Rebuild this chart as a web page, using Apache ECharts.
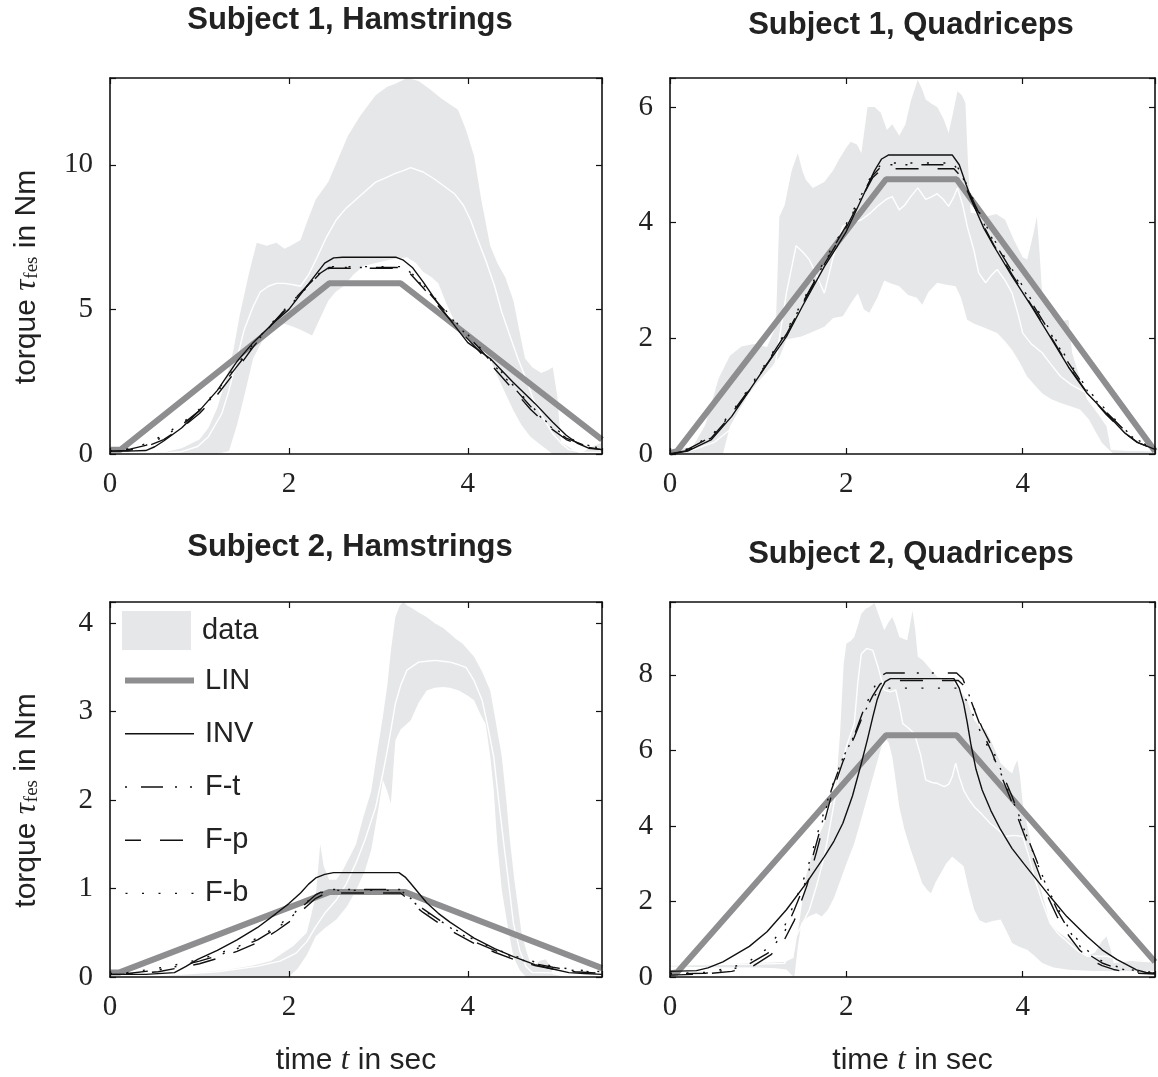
<!DOCTYPE html>
<html><head><meta charset="utf-8">
<script src="https://cdn.jsdelivr.net/npm/echarts@6/dist/echarts.min.js"></script>
<style>html,body{margin:0;padding:0;background:#fff}#c{width:1158px;height:1077px}</style>
</head><body><div id="c"></div>
<script>
// ---------------- DATA (time in s, torque in Nm) ----------------
const panelTitles = ['Subject 1, Hamstrings', 'Subject 1, Quadriceps', 'Subject 2, Hamstrings', 'Subject 2, Quadriceps'];
const legendNames = ['data', 'LIN', 'INV', 'F-t', 'F-p', 'F-b'];
const xTicks = [0, 2, 4];
const yTicksS1H = [0, 5, 10];
const yTicksS1Q = [0, 2, 4, 6];
const yTicksS2H = [0, 1, 2, 3, 4];
const yTicksS2Q = [0, 2, 4, 6, 8];

// Subject 1, Hamstrings
const s1hUpper = [[0,0],[0.3,0],[0.6,0.05],[0.8,0.2],[1.0,0.5],[1.1,0.9],[1.2,1.6],[1.3,2.6],[1.38,3.6],[1.45,4.8],[1.55,6.2],[1.64,7.3],[1.75,7.2],[1.86,7.3],[1.95,7.1],[2.02,7.2],[2.13,7.4],[2.2,8.0],[2.3,8.8],[2.44,9.4],[2.55,10.2],[2.66,11.0],[2.8,11.7],[2.97,12.4],[3.1,12.7],[3.19,12.8],[3.32,13.0],[3.45,12.9],[3.58,12.6],[3.7,12.3],[3.89,11.9],[3.98,11.2],[4.07,10.3],[4.15,8.8],[4.25,7.2],[4.33,6.6],[4.42,6.1],[4.51,5.3],[4.58,4.2],[4.64,3.3],[4.72,3.0],[4.82,2.8],[4.9,2.9],[4.95,3.0],[5.0,2.0],[5.04,0.4],[5.15,0.2],[5.26,0.0],[5.35,0.2],[5.5,0.4]];
const s1hLower = [[0,0],[1.2,0],[1.33,0.1],[1.42,1.0],[1.5,2.0],[1.6,3.3],[1.7,3.9],[1.77,4.1],[1.86,4.4],[1.95,4.5],[2.05,4.4],[2.13,4.3],[2.26,4.1],[2.35,4.7],[2.44,5.3],[2.52,5.6],[2.61,5.8],[2.72,6.2],[2.83,6.5],[2.97,6.6],[3.1,6.7],[3.2,6.75],[3.32,6.8],[3.42,6.6],[3.5,6.3],[3.6,6.1],[3.67,5.9],[3.76,5.2],[3.85,4.6],[3.95,4.3],[4.07,4.0],[4.16,3.7],[4.25,3.3],[4.33,2.7],[4.42,2.1],[4.51,1.5],[4.6,1.0],[4.7,0.6],[4.82,0.3],[4.95,0],[5.5,0]];
const s1hMean = [[0,0.02],[0.6,0.03],[0.8,0.08],[0.98,0.26],[1.1,0.6],[1.25,1.4],[1.33,2.2],[1.42,3.3],[1.5,4.3],[1.6,5.1],[1.68,5.6],[1.77,5.8],[1.86,5.9],[1.95,5.9],[2.05,5.85],[2.13,5.8],[2.22,6.2],[2.3,6.7],[2.42,7.5],[2.53,8.1],[2.64,8.5],[2.75,8.8],[2.86,9.1],[2.97,9.4],[3.08,9.55],[3.19,9.7],[3.28,9.8],[3.36,9.9],[3.5,9.75],[3.63,9.5],[3.74,9.25],[3.85,9.0],[3.95,8.6],[4.03,8.1],[4.1,7.5],[4.2,6.7],[4.3,5.8],[4.38,4.9],[4.47,4.1],[4.56,3.3],[4.65,2.6],[4.73,1.9],[4.85,1.2],[4.95,0.7],[5.05,0.35],[5.13,0.15],[5.3,0.05],[5.5,0.05]];
const s1hLin = [[0,0.15],[0.12,0.15],[2.45,5.9],[3.25,5.9],[5.5,0.5]];
const s1hInv = [[0,0.1],[0.2,0.1],[0.4,0.12],[0.5,0.25],[0.6,0.45],[0.8,0.9],[1.0,1.5],[1.2,2.2],[1.42,3.2],[1.6,3.85],[1.8,4.45],[2.0,5.0],[2.15,5.6],[2.3,6.2],[2.4,6.6],[2.5,6.78],[2.6,6.8],[3.2,6.8],[3.28,6.7],[3.38,6.45],[3.5,5.95],[3.7,5.05],[3.9,4.25],[4.0,3.85],[4.25,3.3],[4.5,2.5],[4.75,1.75],[4.95,1.1],[5.1,0.65],[5.22,0.38],[5.35,0.2],[5.5,0.15]];
const s1hFt = [[0,0.1],[0.2,0.15],[0.4,0.3],[0.6,0.6],[0.8,1.0],[1.0,1.5],[1.2,2.15],[1.4,2.95],[1.6,3.75],[1.8,4.45],[2.0,5.1],[2.2,5.75],[2.35,6.25],[2.45,6.45],[3.25,6.45],[3.35,6.3],[3.5,5.8],[3.7,5.1],[3.9,4.4],[4.1,3.75],[4.3,3.05],[4.5,2.35],[4.7,1.65],[4.9,1.0],[5.1,0.55],[5.3,0.3],[5.5,0.2]];
const s1hFp = [[0,0.1],[0.2,0.12],[0.4,0.25],[0.6,0.5],[0.8,0.9],[1.0,1.4],[1.2,2.05],[1.4,2.85],[1.6,3.7],[1.8,4.45],[2.0,5.15],[2.2,5.8],[2.35,6.25],[2.45,6.42],[3.25,6.42],[3.35,6.25],[3.5,5.75],[3.7,5.0],[3.9,4.3],[4.1,3.65],[4.3,2.95],[4.5,2.25],[4.7,1.55],[4.9,0.95],[5.1,0.5],[5.3,0.25],[5.5,0.15]];
const s1hFb = [[0,0.1],[0.2,0.18],[0.4,0.35],[0.6,0.65],[0.8,1.05],[1.0,1.55],[1.2,2.2],[1.4,3.0],[1.6,3.8],[1.8,4.5],[2.0,5.15],[2.2,5.8],[2.35,6.28],[2.45,6.48],[3.25,6.48],[3.35,6.32],[3.5,5.85],[3.7,5.15],[3.9,4.45],[4.1,3.8],[4.3,3.1],[4.5,2.4],[4.7,1.7],[4.9,1.05],[5.1,0.6],[5.3,0.32],[5.5,0.22]];

// Subject 1, Quadriceps
const s1qUpper = [[0,0],[0.15,0.1],[0.26,0.13],[0.4,0.5],[0.55,1.3],[0.68,1.7],[0.81,1.86],[0.95,1.9],[1.1,1.85],[1.2,2.2],[1.24,4.1],[1.3,4.3],[1.38,4.9],[1.45,5.2],[1.5,4.9],[1.54,4.74],[1.62,4.6],[1.75,4.7],[1.85,4.9],[1.92,5.1],[2.0,5.3],[2.05,5.4],[2.12,5.35],[2.17,5.2],[2.24,6.0],[2.32,6.0],[2.39,5.9],[2.46,5.6],[2.52,5.7],[2.6,5.5],[2.67,5.7],[2.73,6.1],[2.81,6.47],[2.86,6.3],[2.9,6.13],[2.97,6.05],[3.03,6.0],[3.1,5.8],[3.16,5.55],[3.21,5.9],[3.26,6.27],[3.31,6.2],[3.35,6.07],[3.38,5.0],[3.41,4.17],[3.5,4.15],[3.58,4.1],[3.7,4.15],[3.8,4.05],[3.9,3.7],[4.0,3.4],[4.05,3.36],[4.12,3.8],[4.16,4.1],[4.19,3.5],[4.22,2.78],[4.3,2.45],[4.35,2.38],[4.45,2.3],[4.52,2.32],[4.56,1.75],[4.65,1.3],[4.73,0.94],[4.85,0.7],[4.95,0.48],[5.0,0.07],[5.2,0.05],[5.5,0.05]];
const s1qLower = [[0,0],[0.6,0],[0.68,0.48],[0.8,0.8],[0.9,1.05],[1.0,1.25],[1.15,1.5],[1.25,1.7],[1.32,1.98],[1.49,2.03],[1.6,2.1],[1.75,2.2],[1.85,2.35],[1.96,2.38],[2.05,2.6],[2.13,2.78],[2.2,2.5],[2.26,2.44],[2.35,2.7],[2.43,3.0],[2.5,2.95],[2.6,2.9],[2.7,2.75],[2.8,2.7],[2.86,2.58],[2.93,2.8],[3.03,2.96],[3.12,2.93],[3.24,2.9],[3.3,2.7],[3.37,2.32],[3.45,2.25],[3.54,2.2],[3.62,2.15],[3.71,2.09],[3.8,1.95],[3.88,1.8],[3.96,1.6],[4.05,1.34],[4.13,1.2],[4.22,1.05],[4.32,0.95],[4.43,0.88],[4.55,0.82],[4.65,0.77],[4.75,0.6],[4.82,0.4],[4.9,0.19],[5.03,0],[5.5,0]];
const s1qMean = [[0,0],[0.26,0.07],[0.5,0.2],[0.68,0.42],[0.9,0.75],[1.11,1.05],[1.2,1.6],[1.32,2.78],[1.43,3.6],[1.5,3.5],[1.58,3.36],[1.66,3.1],[1.75,2.78],[1.85,3.4],[1.96,3.94],[2.08,4.0],[2.17,4.05],[2.26,4.15],[2.35,4.28],[2.45,4.4],[2.52,4.45],[2.6,4.22],[2.66,4.3],[2.73,4.45],[2.81,4.6],[2.9,4.4],[2.97,4.45],[3.03,4.5],[3.1,4.4],[3.16,4.28],[3.22,4.45],[3.26,4.6],[3.32,4.3],[3.37,3.94],[3.45,3.5],[3.5,3.13],[3.58,2.96],[3.65,3.1],[3.71,3.19],[3.8,3.0],[3.88,2.78],[3.95,2.4],[4.0,2.09],[4.1,1.9],[4.22,1.75],[4.32,1.55],[4.43,1.34],[4.55,1.2],[4.73,1.05],[4.9,1.05],[5.0,0.6],[5.07,0.19],[5.29,0.07],[5.5,0.05]];
const s1qLin = [[0,0.02],[0.08,0.05],[2.45,4.75],[3.25,4.75],[5.5,0.05]];
const s1qInv = [[0,0],[0.2,0.05],[0.47,0.25],[0.7,0.65],[0.9,1.1],[1.1,1.55],[1.32,2.03],[1.5,2.55],[1.75,3.24],[1.9,3.6],[2.0,3.85],[2.17,4.4],[2.32,4.9],[2.4,5.1],[2.48,5.17],[3.2,5.17],[3.28,5.0],[3.36,4.65],[3.45,4.28],[3.56,3.9],[3.67,3.6],[3.88,3.07],[4.1,2.55],[4.31,2.03],[4.52,1.5],[4.73,1.05],[4.95,0.7],[5.16,0.36],[5.3,0.2],[5.5,0.08]];
const s1qFt = [[0,0],[0.2,0.08],[0.47,0.3],[0.7,0.7],[0.9,1.12],[1.1,1.58],[1.32,2.1],[1.5,2.6],[1.75,3.3],[2.0,3.95],[2.17,4.45],[2.3,4.82],[2.4,4.98],[2.45,5.0],[3.22,5.0],[3.3,4.85],[3.4,4.5],[3.56,3.98],[3.67,3.68],[3.88,3.15],[4.1,2.62],[4.31,2.1],[4.52,1.57],[4.73,1.1],[4.95,0.72],[5.16,0.4],[5.3,0.22],[5.5,0.1]];
const s1qFp = [[0,0],[0.2,0.06],[0.47,0.28],[0.7,0.68],[0.9,1.1],[1.1,1.56],[1.32,2.07],[1.5,2.58],[1.75,3.28],[2.0,3.92],[2.17,4.42],[2.3,4.78],[2.4,4.92],[2.45,4.93],[3.22,4.93],[3.3,4.8],[3.4,4.45],[3.56,3.93],[3.67,3.62],[3.88,3.1],[4.1,2.57],[4.31,2.05],[4.52,1.52],[4.73,1.06],[4.95,0.68],[5.16,0.36],[5.3,0.2],[5.5,0.08]];
const s1qFb = [[0,0],[0.2,0.09],[0.47,0.32],[0.7,0.72],[0.9,1.15],[1.1,1.6],[1.32,2.13],[1.5,2.63],[1.75,3.34],[2.0,3.98],[2.17,4.48],[2.3,4.86],[2.4,5.01],[2.45,5.03],[3.22,5.03],[3.3,4.88],[3.4,4.53],[3.56,4.01],[3.67,3.72],[3.88,3.19],[4.1,2.66],[4.31,2.14],[4.52,1.6],[4.73,1.13],[4.95,0.75],[5.16,0.42],[5.3,0.24],[5.5,0.12]];

// Subject 2, Hamstrings
const s2hUpper = [[0,0],[0.4,0],[0.7,0.02],[1.0,0.05],[1.3,0.08],[1.6,0.13],[1.8,0.18],[1.9,0.25],[2.05,0.35],[2.2,0.5],[2.3,0.91],[2.35,1.5],[2.39,1.25],[2.45,1.1],[2.53,1.1],[2.6,1.2],[2.7,1.4],[2.75,1.5],[2.83,1.8],[2.92,2.1],[2.98,2.5],[3.05,2.94],[3.1,3.3],[3.14,3.69],[3.19,4.07],[3.24,4.2],[3.28,4.24],[3.32,4.2],[3.36,4.18],[3.45,4.12],[3.54,4.07],[3.63,4.0],[3.72,3.95],[3.8,3.88],[3.87,3.82],[3.94,3.77],[4.0,3.7],[4.07,3.62],[4.16,3.45],[4.25,3.24],[4.31,2.9],[4.38,2.49],[4.43,2.0],[4.47,1.55],[4.52,1.1],[4.56,0.8],[4.6,0.5],[4.65,0.31],[4.7,0.15],[4.74,0.12],[4.8,0.18],[4.87,0.2],[4.92,0.12],[4.95,0.03],[5.1,0],[5.5,0]];
const s2hLower = [[0,0],[2.0,0],[2.1,0.1],[2.2,0.25],[2.3,0.46],[2.4,0.55],[2.53,0.65],[2.65,0.8],[2.75,0.98],[2.85,1.2],[2.92,1.44],[3.0,1.9],[3.05,2.23],[3.1,2.1],[3.14,1.96],[3.19,2.68],[3.25,2.8],[3.36,2.9],[3.45,3.1],[3.54,3.24],[3.63,3.27],[3.72,3.28],[3.8,3.27],[3.9,3.24],[4.0,3.18],[4.07,3.13],[4.15,2.95],[4.2,2.86],[4.25,2.5],[4.29,2.11],[4.33,1.5],[4.38,0.98],[4.45,0.55],[4.51,0.23],[4.58,0.08],[4.65,0],[5.5,0]];
const s2hMean = [[0,0],[0.76,0.03],[1.2,0.06],[1.64,0.12],[1.9,0.18],[2.08,0.27],[2.2,0.4],[2.3,0.57],[2.4,0.72],[2.53,0.87],[2.64,1.05],[2.75,1.29],[2.85,1.55],[2.97,1.92],[3.05,2.3],[3.1,2.56],[3.15,2.85],[3.19,3.09],[3.25,3.3],[3.32,3.47],[3.45,3.56],[3.54,3.57],[3.63,3.58],[3.72,3.57],[3.8,3.56],[3.9,3.53],[3.98,3.5],[4.07,3.35],[4.16,3.13],[4.22,2.85],[4.29,2.49],[4.35,1.95],[4.42,1.36],[4.47,0.95],[4.51,0.61],[4.58,0.3],[4.65,0.12],[4.72,0.05],[4.85,0.05],[5.5,0.02]];
const s2hLin = [[0,0.05],[0.1,0.05],[2.45,0.96],[3.3,0.96],[5.5,0.1]];
const s2hInv = [[0,0.03],[0.4,0.03],[0.72,0.05],[0.85,0.12],[0.98,0.2],[1.2,0.3],[1.42,0.42],[1.65,0.56],[1.86,0.72],[2.0,0.83],[2.13,0.95],[2.22,1.05],[2.3,1.12],[2.4,1.16],[2.5,1.18],[3.23,1.18],[3.3,1.13],[3.36,1.06],[3.45,0.95],[3.54,0.84],[3.67,0.72],[3.8,0.62],[3.95,0.52],[4.07,0.44],[4.3,0.32],[4.51,0.23],[4.75,0.14],[4.95,0.09],[5.13,0.05],[5.3,0.04],[5.5,0.03]];
const s2hFt = [[0,0.03],[0.2,0.04],[0.54,0.08],[0.8,0.13],[1.0,0.18],[1.2,0.24],[1.42,0.32],[1.65,0.42],[1.86,0.55],[2.0,0.65],[2.1,0.75],[2.2,0.84],[2.3,0.93],[2.4,0.98],[2.45,0.99],[3.25,0.99],[3.32,0.93],[3.4,0.85],[3.5,0.77],[3.63,0.68],[3.8,0.56],[4.07,0.4],[4.3,0.3],[4.51,0.22],[4.75,0.15],[4.95,0.11],[5.2,0.07],[5.5,0.05]];
const s2hFp = [[0,0.03],[0.2,0.03],[0.54,0.06],[0.8,0.11],[1.0,0.15],[1.2,0.21],[1.42,0.29],[1.65,0.39],[1.86,0.52],[2.0,0.62],[2.1,0.71],[2.2,0.8],[2.3,0.89],[2.4,0.94],[2.45,0.95],[3.25,0.95],[3.32,0.89],[3.4,0.81],[3.5,0.73],[3.63,0.64],[3.8,0.53],[4.07,0.38],[4.3,0.28],[4.51,0.2],[4.75,0.13],[4.95,0.09],[5.2,0.06],[5.5,0.04]];
const s2hFb = [[0,0.04],[0.2,0.05],[0.54,0.1],[0.8,0.15],[1.0,0.2],[1.2,0.26],[1.42,0.34],[1.65,0.44],[1.86,0.57],[2.0,0.67],[2.1,0.76],[2.2,0.85],[2.3,0.92],[2.4,0.97],[2.45,0.98],[3.25,0.98],[3.32,0.92],[3.4,0.84],[3.5,0.76],[3.63,0.67],[3.8,0.57],[4.07,0.42],[4.3,0.32],[4.51,0.24],[4.75,0.17],[4.95,0.12],[5.2,0.08],[5.5,0.06]];

// Subject 2, Quadriceps
const s2qUpper = [[0,0.3],[0.5,0.33],[1.0,0.37],[1.3,0.4],[1.4,0.5],[1.47,1.5],[1.54,2.66],[1.62,3.3],[1.68,3.7],[1.75,4.07],[1.82,4.5],[1.88,4.95],[1.93,6.5],[1.97,8.3],[2.0,8.83],[2.05,8.9],[2.09,9.0],[2.13,9.3],[2.17,9.62],[2.22,9.75],[2.26,9.8],[2.32,9.9],[2.38,9.5],[2.43,9.18],[2.48,9.4],[2.52,9.53],[2.56,9.3],[2.6,9.0],[2.65,8.95],[2.69,8.92],[2.72,9.3],[2.75,9.7],[2.78,9.2],[2.81,8.48],[2.86,8.4],[2.9,8.3],[2.97,8.1],[3.03,7.95],[3.1,7.9],[3.2,7.86],[3.28,7.6],[3.37,7.33],[3.45,6.8],[3.52,6.6],[3.58,6.54],[3.65,6.2],[3.75,5.66],[3.82,5.5],[3.88,5.39],[3.91,5.6],[3.94,5.74],[3.97,5.3],[4.0,4.6],[4.07,3.8],[4.14,3.01],[4.22,2.2],[4.31,1.43],[4.4,1.2],[4.52,0.99],[4.62,0.8],[4.73,0.55],[4.82,0.65],[4.9,0.95],[4.95,1.07],[5.0,0.7],[5.03,0.37],[5.15,0.4],[5.29,0.46],[5.4,0.42],[5.5,0.4]];
const s2qLower = [[0,0.28],[0.5,0.26],[1.0,0.25],[1.2,0.23],[1.32,0.2],[1.38,0.05],[1.41,0],[1.45,0.8],[1.49,1.43],[1.57,1.6],[1.66,1.69],[1.72,1.6],[1.79,1.78],[1.86,2.1],[1.92,2.48],[2.0,3.0],[2.09,3.54],[2.17,4.2],[2.26,4.95],[2.35,5.7],[2.43,6.36],[2.48,6.2],[2.52,5.83],[2.56,5.2],[2.6,4.51],[2.66,3.9],[2.73,3.37],[2.8,2.9],[2.86,2.48],[2.92,2.3],[2.96,2.22],[3.01,2.5],[3.07,2.75],[3.13,3.0],[3.2,3.19],[3.27,3.05],[3.33,2.93],[3.38,2.4],[3.45,1.78],[3.51,1.5],[3.58,1.43],[3.66,1.48],[3.75,1.52],[3.82,1.2],[3.88,0.9],[3.96,0.8],[4.05,0.72],[4.14,0.55],[4.22,0.37],[4.35,0.25],[4.52,0.19],[4.8,0.16],[5.5,0.15]];
const s2qMean = [[0,0.33],[0.5,0.33],[1.0,0.34],[1.3,0.36],[1.41,0.99],[1.5,1.4],[1.58,1.78],[1.66,2.4],[1.75,3.19],[1.83,4.2],[1.92,5.39],[2.0,6.1],[2.09,6.71],[2.13,7.8],[2.17,8.56],[2.23,8.7],[2.3,8.65],[2.36,8.2],[2.43,7.6],[2.5,7.55],[2.56,7.6],[2.6,7.2],[2.64,6.71],[2.7,6.6],[2.77,6.45],[2.84,5.9],[2.9,5.22],[2.97,5.15],[3.03,5.13],[3.11,5.04],[3.16,5.1],[3.2,5.3],[3.24,5.66],[3.28,5.3],[3.33,4.95],[3.39,4.7],[3.45,4.51],[3.54,4.3],[3.63,4.07],[3.72,3.9],[3.8,3.72],[3.9,3.75],[4.0,3.72],[4.07,3.2],[4.14,2.57],[4.22,2.0],[4.31,1.43],[4.4,1.15],[4.52,0.9],[4.62,0.7],[4.73,0.55],[4.85,0.55],[4.95,0.55],[5.05,0.5],[5.16,0.46],[5.3,0.43],[5.42,0.41],[5.5,0.4]];
const s2qLin = [[0,0.1],[0.08,0.12],[2.45,6.4],[3.25,6.4],[5.5,0.4]];
const s2qInv = [[0,0.15],[0.3,0.17],[0.43,0.24],[0.6,0.4],[0.9,0.81],[1.1,1.2],[1.32,1.78],[1.55,2.5],[1.75,3.19],[1.86,3.6],[1.96,4.07],[2.07,4.8],[2.17,5.66],[2.24,6.3],[2.3,6.89],[2.35,7.35],[2.39,7.6],[2.44,7.82],[2.5,7.9],[3.22,7.9],[3.28,7.65],[3.33,7.24],[3.37,6.75],[3.41,6.19],[3.47,5.5],[3.54,4.95],[3.64,4.4],[3.75,3.9],[3.88,3.4],[4.01,3.01],[4.15,2.6],[4.31,2.13],[4.5,1.6],[4.73,1.07],[4.9,0.72],[5.07,0.46],[5.2,0.3],[5.29,0.19],[5.4,0.12],[5.5,0.1]];
const s2qFt = [[0,0.08],[0.4,0.1],[0.7,0.2],[0.9,0.35],[1.11,0.63],[1.3,1.2],[1.41,1.78],[1.55,2.6],[1.66,3.54],[1.75,4.3],[1.83,4.95],[1.96,5.8],[2.09,6.4],[2.2,7.1],[2.3,7.6],[2.38,7.95],[2.45,8.05],[3.25,8.05],[3.32,7.9],[3.37,7.6],[3.45,7.1],[3.54,6.6],[3.63,6.19],[3.75,5.5],[3.88,4.78],[4.0,4.0],[4.14,3.19],[4.27,2.4],[4.39,1.78],[4.52,1.25],[4.65,0.81],[4.78,0.55],[4.9,0.37],[5.03,0.26],[5.16,0.19],[5.3,0.14],[5.5,0.1]];
const s2qFp = [[0,0.05],[0.4,0.08],[0.7,0.15],[0.95,0.3],[1.15,0.6],[1.3,1.0],[1.41,1.5],[1.55,2.4],[1.66,3.3],[1.75,4.1],[1.83,4.8],[1.96,5.7],[2.09,6.35],[2.2,7.0],[2.3,7.45],[2.38,7.75],[2.45,7.85],[3.27,7.85],[3.34,7.7],[3.4,7.4],[3.48,6.9],[3.56,6.4],[3.65,5.95],[3.77,5.25],[3.9,4.5],[4.02,3.75],[4.15,2.95],[4.27,2.2],[4.39,1.6],[4.52,1.1],[4.65,0.7],[4.78,0.45],[4.9,0.3],[5.03,0.2],[5.16,0.14],[5.3,0.1],[5.5,0.08]];
const s2qFb = [[0,0.1],[0.4,0.12],[0.7,0.25],[0.9,0.42],[1.1,0.75],[1.3,1.35],[1.41,1.95],[1.55,2.8],[1.66,3.7],[1.75,4.4],[1.83,5.0],[1.96,5.8],[2.09,6.4],[2.2,7.0],[2.3,7.4],[2.38,7.6],[2.45,7.65],[3.25,7.65],[3.32,7.5],[3.4,7.15],[3.48,6.7],[3.56,6.3],[3.65,5.9],[3.77,5.3],[3.9,4.6],[4.02,3.9],[4.15,3.1],[4.27,2.4],[4.39,1.85],[4.52,1.3],[4.65,0.9],[4.78,0.6],[4.9,0.42],[5.03,0.3],[5.16,0.22],[5.3,0.16],[5.5,0.12]];

// ---------------- CHART ----------------
const SANS = '"Liberation Sans", Arial, sans-serif';
const SERIF = '"Liberation Serif", "Times New Roman", serif';
const BAND = '#e6e7e9';
const LINC = '#8e8e90';
const INK = '#111111';

const panels = [
  {upper:s1hUpper, lower:s1hLower, mean:s1hMean, lin:s1hLin, inv:s1hInv, ft:s1hFt, fp:s1hFp, fb:s1hFb, yTicks:yTicksS1H, yMax:13.0},
  {upper:s1qUpper, lower:s1qLower, mean:s1qMean, lin:s1qLin, inv:s1qInv, ft:s1qFt, fp:s1qFp, fb:s1qFb, yTicks:yTicksS1Q, yMax:6.5},
  {upper:s2hUpper, lower:s2hLower, mean:s2hMean, lin:s2hLin, inv:s2hInv, ft:s2hFt, fp:s2hFp, fb:s2hFb, yTicks:yTicksS2H, yMax:4.24},
  {upper:s2qUpper, lower:s2qLower, mean:s2qMean, lin:s2qLin, inv:s2qInv, ft:s2qFt, fp:s2qFp, fb:s2qFb, yTicks:yTicksS2Q, yMax:9.93}
];
const grids = [
  {left:110, top:78, width:492, height:376},
  {left:670, top:78, width:492, height:376},
  {left:110, top:602, width:492, height:375},
  {left:670, top:602, width:492, height:375}
];
const titlePos = [[350, 5], [911, 10], [350, 532], [911, 539]];

const FT_DASH = [22,12,2,13,2,14], FP_DASH = [23,19], FB_DASH = [2,14.5];
const styles = {
  lin: {color:LINC, width:6, type:'solid'},
  inv: {color:INK, width:1.4, type:'solid'},
  ft:  {color:INK, width:1.4, type:FT_DASH, dashOffset:49},
  fp:  {color:INK, width:1.4, type:FP_DASH},
  fb:  {color:INK, width:1.4, type:FB_DASH}
};

function onTick(ticks) {
  return function (v) {
    for (const t of ticks) if (Math.abs(v - t) < 1e-6) return String(t);
    return '';
  };
}
const axisLine = {show:true, onZero:false, lineStyle:{color:INK, width:1.6}};
const axisTick = {show:true, inside:true, length:6, lineStyle:{color:INK, width:1.2}};

const xAxis = [], yAxis = [], series = [], graphic = [];
const yName = 'torque {tau|τ}{sub|fes} in Nm';
const xName = 'time {it|t} in sec';
const nameRich = {
  tau: {fontFamily:SERIF, fontStyle:'italic', fontSize:31, color:'#222'},
  sub: {fontFamily:SERIF, fontSize:19, color:'#222', padding:[12,0,0,1]},
  it:  {fontFamily:SERIF, fontStyle:'italic', fontSize:31, color:'#222'}
};

panels.forEach((p, i) => {
  const isBottom = i >= 2, isLeft = (i % 2 === 0);
  const iv = p.yTicks[1] - p.yTicks[0];
  xAxis.push({
    gridIndex:i, type:'value', min:0, max:5.5, interval:2, position:'bottom', z:10,
    axisLine, axisTick, splitLine:{show:false},
    axisLabel:{margin:16, fontFamily:SERIF, fontSize:29, color:'#222', formatter:onTick(xTicks)},
    name: isBottom ? xName : '', nameLocation:'middle', nameGap:68,
    nameTextStyle:{fontFamily:SANS, fontSize:30, color:'#222', rich:nameRich}
  });
  xAxis.push({
    gridIndex:i, type:'value', min:0, max:5.5, interval:2, position:'top', z:10,
    axisLine, axisTick, splitLine:{show:false}, axisLabel:{show:false}
  });
  yAxis.push({
    gridIndex:i, type:'value', min:0, max:p.yMax, interval:iv, position:'left', z:10,
    axisLine, axisTick, splitLine:{show:false},
    axisLabel:{margin:17, fontFamily:SERIF, fontSize:29, color:'#222', formatter:onTick(p.yTicks)},
    name: isLeft ? yName : '', nameLocation:'middle', nameGap:68, nameRotate:90,
    nameTextStyle:{fontFamily:SANS, fontSize:30, color:'#222', rich:nameRich, padding:[0,22,0,0]}
  });
  yAxis.push({
    gridIndex:i, type:'value', min:0, max:p.yMax, interval:iv, position:'right', z:10,
    axisLine, axisTick, splitLine:{show:false}, axisLabel:{show:false}
  });

  const xa = 2 * i, ya = 2 * i;
  series.push({
    type:'custom', name:'data', xAxisIndex:xa, yAxisIndex:ya, coordinateSystem:'cartesian2d',
    data:[[0, 0]], silent:true, z:1, clip:true, itemStyle:{color:BAND},
    renderItem: function (params, api) {
      const pts = p.upper.map(d => api.coord(d)).concat(p.lower.slice().reverse().map(d => api.coord(d)));
      return {type:'polygon', shape:{points:pts}, style:{fill:BAND, stroke:null}};
    }
  });
  const line = (name, data, st, z) => ({
    type:'line', name, xAxisIndex:xa, yAxisIndex:ya, data, symbol:'none', showSymbol:false,
    lineStyle:st, itemStyle:{color:st.color}, z, silent:true, clip:true
  });
  series.push(line('mean', p.mean, {color:'#ffffff', width:1.4}, 2));
  series.push(line('LIN', p.lin, styles.lin, 3));
  series.push(line('INV', p.inv, styles.inv, 4));
  series.push(line('F-t', p.ft, styles.ft, 5));
  series.push(line('F-p', p.fp, styles.fp, 5));
  series.push(line('F-b', p.fb, styles.fb, 5));

  graphic.push({
    type:'text', x:titlePos[i][0], y:titlePos[i][1], z:20,
    style:{text:panelTitles[i], font:'bold 31px ' + SANS, fill:'#222', align:'center', textAlign:'center', verticalAlign:'top', textVerticalAlign:'top'}
  });
});

const hideSym = {opacity:0};
const legendCommon = {
  orient:'vertical', itemWidth:69, itemHeight:39, selectedMode:false, z:20, padding:0,
  textStyle:{fontFamily:SANS, fontSize:29, color:'#222', padding:[0,0,0,6]}
};
const chart = echarts.init(document.getElementById('c'), null, {renderer:'canvas'});
chart.setOption({
  animation:false,
  backgroundColor:'#ffffff',
  grid: grids.map(g => Object.assign({containLabel:false}, g)),
  xAxis, yAxis, series, graphic,
  legend: [
    Object.assign({}, legendCommon, {
      left:122, top:611, itemGap:14,
      data: [{name:legendNames[0], icon:'rect', itemStyle:{color:BAND, opacity:1}}]
    }),
    Object.assign({}, legendCommon, {
      left:122, top:665, itemGap:22,
      data: [
        {name:legendNames[1], itemStyle:hideSym, lineStyle:{color:LINC, width:6, type:'solid', opacity:1}},
        {name:legendNames[2], itemStyle:hideSym, lineStyle:{color:INK, width:1.4, type:'solid', opacity:1}},
        {name:legendNames[3], itemStyle:hideSym, lineStyle:{color:INK, width:1.4, type:FT_DASH, dashOffset:49, opacity:1}},
        {name:legendNames[4], itemStyle:hideSym, lineStyle:{color:INK, width:1.4, type:FP_DASH, opacity:1}},
        {name:legendNames[5], itemStyle:hideSym, lineStyle:{color:INK, width:1.4, type:FB_DASH, opacity:1}}
      ]
    })
  ]
});
</script>
</body></html>
